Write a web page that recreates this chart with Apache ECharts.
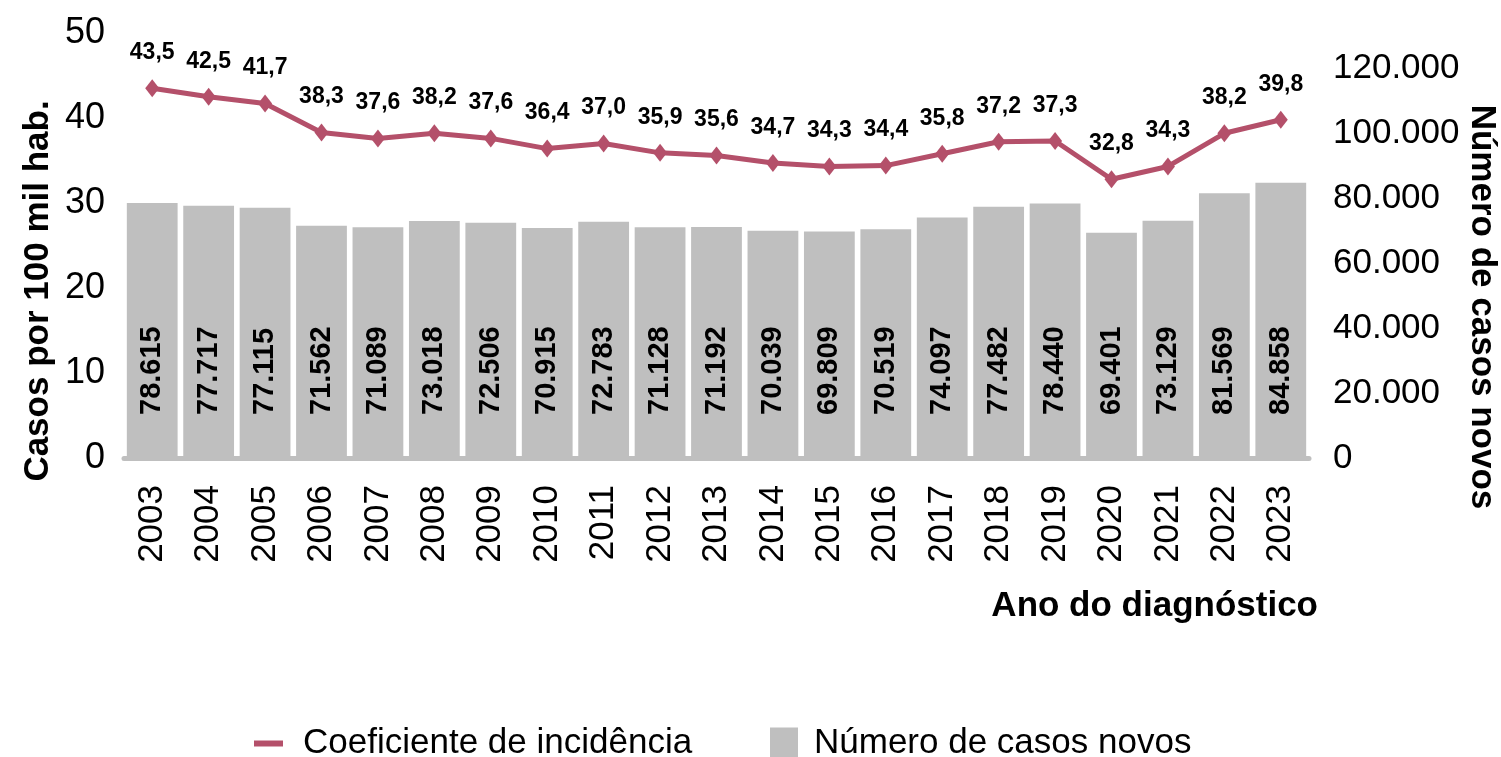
<!DOCTYPE html>
<html lang="pt-BR">
<head>
<meta charset="utf-8">
<title>Casos novos e coeficiente de incidência</title>
<script src="https://cdn.jsdelivr.net/npm/echarts@6/dist/echarts.min.js"></script>
<style>
  html, body { margin: 0; padding: 0; background: #fff; }
  #chart { width: 1501px; height: 757px; }
</style>
</head>
<body>
<div id="chart"></div>
<script>
// dados
const anos = ['2003', '2004', '2005', '2006', '2007', '2008', '2009', '2010', '2011', '2012', '2013',
  '2014', '2015', '2016', '2017', '2018', '2019', '2020', '2021', '2022', '2023'];
const casosNovos = [78615, 77717, 77115, 71562, 71089, 73018, 72506, 70915, 72783, 71128, 71192,
  70039, 69809, 70519, 74097, 77482, 78440, 69401, 73129, 81569, 84858];
const coeficiente = [43.5, 42.5, 41.7, 38.3, 37.6, 38.2, 37.6, 36.4, 37.0, 35.9, 35.6,
  34.7, 34.3, 34.4, 35.8, 37.2, 37.3, 32.8, 34.3, 38.2, 39.8];

const fonte = "'Liberation Sans', Arial, sans-serif";

// 78615 -> 78.615 ; 43.5 -> 43,5
const milhar = (v) => String(v).replace(/\B(?=(\d{3})+(?!\d))/g, '.');
const decimal = (v) => Number(v).toFixed(1).replace('.', ',');

const chart = echarts.init(document.getElementById('chart'));

const option = {
  animation: false,
  grid: { left: 124, right: 192, top: 33, bottom: 299 },
  xAxis: {
    type: 'category',
    data: anos,
    axisLine: { lineStyle: { color: '#bfbfbf', width: 5 } },
    axisTick: { show: false },
    axisLabel: {
      rotate: 90,
      margin: 27,
      interval: 0,
      color: '#000',
      fontFamily: fonte,
      fontSize: 35
    }
  },
  yAxis: [
    {
      type: 'value',
      min: 0,
      max: 50,
      interval: 10,
      axisLine: { show: false },
      axisTick: { show: false },
      splitLine: { show: false },
      axisLabel: { margin: 19, color: '#000', fontFamily: fonte, fontSize: 36 }
    },
    {
      type: 'value',
      min: 0,
      max: 131000,
      interval: 20000,
      axisLine: { show: false },
      axisTick: { show: false },
      splitLine: { show: false },
      axisLabel: {
        margin: 24,
        showMaxLabel: false,
        color: '#000',
        fontFamily: fonte,
        fontSize: 35,
        formatter: (v) => milhar(v)
      }
    }
  ],
  legend: [
    {
      data: ['Coeficiente de incidência'],
      left: 249,
      top: 721,
      icon: 'rect',
      itemWidth: 29,
      itemHeight: 6,
      selectedMode: false,
      textStyle: { color: '#000', fontFamily: fonte, fontSize: 35, padding: [0, 0, 0, 15] }
    },
    {
      data: ['Número de casos novos'],
      left: 765,
      top: 721,
      icon: 'rect',
      itemWidth: 28,
      itemHeight: 32,
      selectedMode: false,
      textStyle: { color: '#000', fontFamily: fonte, fontSize: 35, padding: [0, 0, 0, 11] }
    }
  ],
  series: [
    {
      name: 'Número de casos novos',
      type: 'bar',
      yAxisIndex: 1,
      data: casosNovos,
      barCategoryGap: '10%',
      itemStyle: { color: '#bfbfbf' },
      label: {
        show: true,
        position: 'insideBottom',
        rotate: 90,
        align: 'left',
        verticalAlign: 'middle',
        distance: 43,
        color: '#000',
        fontFamily: fonte,
        fontWeight: 'bold',
        fontSize: 29,
        formatter: (p) => milhar(p.value)
      }
    },
    {
      name: 'Coeficiente de incidência',
      type: 'line',
      yAxisIndex: 0,
      data: coeficiente,
      z: 5,
      symbol: 'diamond',
      symbolSize: [14, 18],
      lineStyle: { color: '#b4506a', width: 5 },
      itemStyle: { color: '#b4506a' },
      label: {
        show: true,
        position: 'top',
        distance: 15,
        color: '#000',
        fontFamily: fonte,
        fontWeight: 'bold',
        fontSize: 23,
        formatter: (p) => decimal(p.value)
      }
    }
  ],
  // títulos dos eixos
  graphic: [
    {
      type: 'text',
      x: 38,
      y: 291,
      rotation: Math.PI / 2,
      style: {
        text: 'Casos por 100 mil hab.',
        fill: '#000',
        font: 'bold 35px ' + fonte,
        align: 'center',
        verticalAlign: 'middle'
      }
    },
    {
      type: 'text',
      x: 1482,
      y: 307,
      rotation: -Math.PI / 2,
      style: {
        text: 'Número de casos novos',
        fill: '#000',
        font: 'bold 35px ' + fonte,
        align: 'center',
        verticalAlign: 'middle'
      }
    },
    {
      type: 'text',
      x: 1318,
      y: 606,
      style: {
        text: 'Ano do diagnóstico',
        fill: '#000',
        font: 'bold 35px ' + fonte,
        align: 'right',
        verticalAlign: 'middle'
      }
    }
  ]
};

chart.setOption(option);
</script>
</body>
</html>
